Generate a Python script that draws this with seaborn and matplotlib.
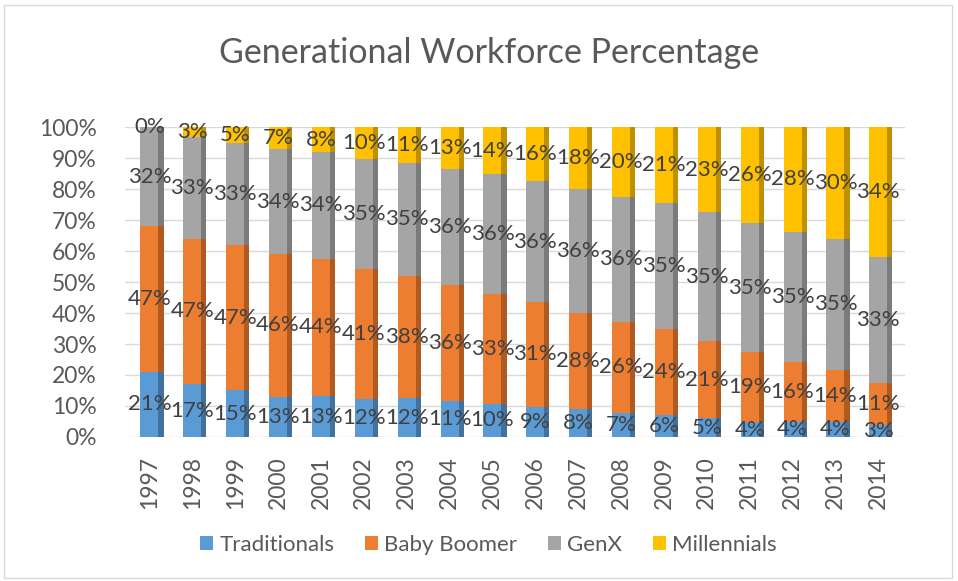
import numpy as np
import pandas as pd
import matplotlib
matplotlib.use('Agg')
import matplotlib.pyplot as plt
import seaborn as sns
from matplotlib.patches import Rectangle, Patch

years = [1997, 1998, 1999, 2000, 2001, 2002, 2003, 2004, 2005,
         2006, 2007, 2008, 2009, 2010, 2011, 2012, 2013, 2014]
traditionals = [21, 17, 15, 13, 13, 12, 12, 11, 10, 9, 8, 7, 6, 5, 4, 4, 4, 3]
baby_boomer = [47, 47, 47, 46, 44, 41, 38, 36, 33, 31, 28, 26, 24, 21, 19, 16, 14, 11]
genx = [32, 33, 33, 34, 34, 35, 35, 36, 36, 36, 36, 36, 35, 35, 35, 35, 35, 33]
millennials = [0, 3, 5, 7, 8, 10, 11, 13, 14, 16, 18, 20, 21, 23, 26, 28, 30, 34]

series = ['Traditionals', 'Baby Boomer', 'GenX', 'Millennials']
colors = ['#5B9BD5', '#ED7D31', '#A5A5A5', '#FFC000']
side_colors = ['#41719C', '#AE5A21', '#7B7B7B', '#BF9000']
yticks = [0, 10, 20, 30, 40, 50, 60, 70, 80, 90, 100]

df = pd.DataFrame({'year': years, 'Traditionals': traditionals,
                   'Baby Boomer': baby_boomer, 'GenX': genx,
                   'Millennials': millennials})
# 100% stacked: normalise each year, keep raw values for labels
share = df[series].div(df[series].sum(axis=1), axis=0) * 100
cum = share.cumsum(axis=1)
bottoms = cum - share

sns.set_theme(style='white')
plt.rcParams['font.family'] = ['Lato', 'DejaVu Sans']

fig = plt.figure(figsize=(9.58, 5.81), dpi=100)
ax = fig.add_axes([0.13, 0.248, 0.815, 0.533])

x = np.arange(len(years))
w = 0.42
d = 0.12

# draw from the top layer down so lower layers cover upper ones
for i in range(len(series) - 1, -1, -1):
    s = series[i]
    ax.bar(x + w / 2 + d / 2, cum[s], width=d, color=side_colors[i],
           linewidth=0, zorder=2)
    sns.barplot(x=x, y=cum[s].values, color=colors[i], width=w,
                saturation=1, native_scale=True, ax=ax, zorder=3,
                linewidth=0, errorbar=None)

for i, s in enumerate(series):
    for j in range(len(years)):
        mid = bottoms[s].iloc[j] + share[s].iloc[j] / 2
        ax.text(x[j], mid, f'{df[s].iloc[j]}%', ha='center', va='center',
                fontsize=16, color='#404040', zorder=5)

ax.set_xlim(-0.58, 17.63)
ax.set_ylim(0, 100)
ax.set_yticks(yticks)
ax.set_yticklabels([f'{t}%' for t in yticks])
ax.set_xticks(x)
ax.set_xticklabels([str(y) for y in years], rotation=90)
ax.tick_params(axis='both', labelsize=16.5, colors='#595959', length=0)
ax.tick_params(axis='x', pad=14)
ax.tick_params(axis='y', pad=20)
ax.yaxis.grid(True, color='#D9D9D9', linewidth=1, zorder=0)
ax.set_axisbelow(True)
for sp in ax.spines.values():
    sp.set_visible(False)
ax.set_xlabel('')
ax.set_ylabel('')

fig.suptitle('Generational Workforce Percentage', fontsize=24.5,
             color='#595959', x=0.511, y=0.937)

handles = [Patch(facecolor=c, edgecolor='none') for c in colors]
fig.legend(handles, series, loc='center', bbox_to_anchor=(0.51, 0.062),
           ncol=4, frameon=False, fontsize=16, labelcolor='#595959',
           handlelength=0.55, handleheight=0.6, handletextpad=0.3,
           columnspacing=1.4)

fig.add_artist(Rectangle((0.004, 0.006), 0.99, 0.985,
                         transform=fig.transFigure, fill=False,
                         edgecolor='#D9D9D9', linewidth=1))

fig.savefig('out.png', dpi=100)
